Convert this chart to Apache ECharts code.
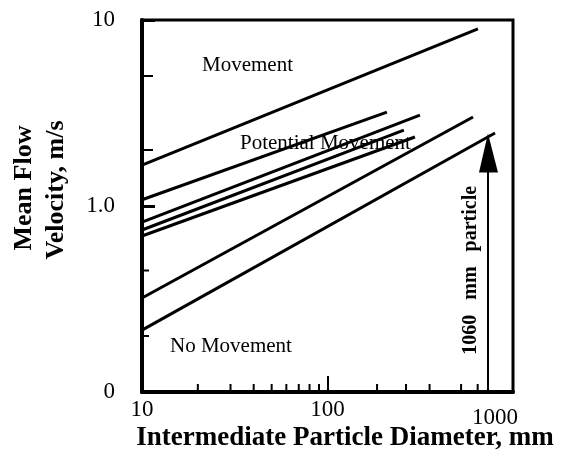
<!DOCTYPE html>
<html>
<head>
<meta charset="utf-8">
<script src="https://cdn.jsdelivr.net/npm/echarts@6/dist/echarts.min.js"></script>
<style>html,body{margin:0;padding:0;background:#fff}#c{width:565px;height:461px}</style>
</head>
<body>
<div id="c"></div>
<script>
// ---- data ----
const xRange = [10, 1000];           // intermediate particle diameter, mm (log)
const yRange = [0.1, 10];            // mean flow velocity, m/s (log)
const xTickLabels = {10: '10', 100: '100', 1000: '1000'};
const yTickLabels = ['0', '1.0', '10']; // for 0.1, 1, 10
const xMinorTicks = [20, 30, 40, 50, 60, 70, 80, 90, 185, 265, 355, 525, 645];
const yMinorTicks = [0.2, 0.45, 2, 5];
// threshold lines: [start, end] as [diameter, velocity]
const line1 = [[10, 1.66], [647, 8.95]];
const line2 = [[10, 1.08], [209, 3.20]];
const line3 = [[10, 0.82], [315, 3.08]];
const line4 = [[10, 0.743], [258, 2.56]];
const line5 = [[10, 0.69], [296, 2.35]];
const line6 = [[10, 0.32], [609, 3.01]];
const line7 = [[10, 0.215], [800, 2.47]];
const arrowDiameter = [733];
const arrowTop = [2.45];
const regionLabels = ['Movement', 'Potential Movement', 'No Movement'];

const serif = '"Liberation Serif", "Times New Roman", serif';
const chart = echarts.init(document.getElementById('c'), null, {renderer: 'canvas'});

const lines = [line1, line2, line3, line4, line5, line6, line7].map(d => ({
  type: 'line', data: d, symbol: 'none', silent: true, z: 3,
  lineStyle: {color: '#000', width: 3}
}));

const tickSeriesX = {
  type: 'custom', silent: true, z: 4,
  data: xMinorTicks.map(v => [v, yRange[0]]),
  encode: {x: 0, y: 1},
  renderItem: (p, api) => {
    const c = api.coord([api.value(0), api.value(1)]);
    return {type: 'line', shape: {x1: c[0], y1: c[1], x2: c[0], y2: c[1] - 8},
      style: {stroke: '#000', lineWidth: 2}};
  }
};
const tickSeriesY = {
  type: 'custom', silent: true, z: 4,
  data: yMinorTicks.map(v => [xRange[0], v]),
  encode: {x: 0, y: 1},
  renderItem: (p, api) => {
    const v = api.value(1);
    const c = api.coord([api.value(0), v]);
    const len = v > 1 ? 11 : 7;
    return {type: 'line', shape: {x1: c[0], y1: c[1], x2: c[0] + len, y2: c[1]},
      style: {stroke: '#000', lineWidth: 2}};
  }
};
const arrowSeries = {
  type: 'custom', silent: true, z: 5,
  data: arrowDiameter.map((d, i) => [d, yRange[0], arrowTop[i]]),
  encode: {x: 0, y: [1, 2]},
  renderItem: (p, api) => {
    const b = api.coord([api.value(0), api.value(1)]);
    const t = api.coord([api.value(0), api.value(2)]);
    return {type: 'group', children: [
      {type: 'line', shape: {x1: b[0], y1: b[1], x2: t[0], y2: t[1] + 30},
        style: {stroke: '#000', lineWidth: 2}},
      {type: 'polygon', shape: {points: [[t[0], t[1]], [t[0] - 9, t[1] + 39], [t[0] + 10, t[1] + 39]]},
        style: {fill: '#000'}},
      {type: 'text', x: b[0] - 17, y: (b[1] + t[1] + 39) / 2 - 12, rotation: Math.PI / 2,
        style: {text: '1060   mm   particle', font: 'bold 20px ' + serif, fill: '#000',
          align: 'center', verticalAlign: 'middle'}}
    ]};
  }
};

chart.setOption({
  animation: false,
  backgroundColor: '#fff',
  grid: {left: 142, right: 52, top: 20, bottom: 69, show: true, borderColor: '#000', borderWidth: 3, backgroundColor: 'transparent'},
  xAxis: {
    type: 'log', logBase: 10, min: xRange[0], max: xRange[1],
    axisLine: {show: true, lineStyle: {color: '#000', width: 4}},
    axisTick: {show: true, inside: true, length: 16, lineStyle: {color: '#000', width: 2}},
    splitLine: {show: false},
    axisLabel: {
      margin: 6, color: '#000', fontFamily: serif, fontSize: 23,
      formatter: v => {
        const k = Math.round(v);
        if (k === 1000) return '{r|' + xTickLabels[1000] + '}';
        return xTickLabels[k] || '';
      },
      rich: {r: {fontFamily: serif, fontSize: 23, color: '#000', padding: [8, 36, 0, 0]}}
    }
  },
  yAxis: {
    type: 'log', logBase: 10, min: yRange[0], max: yRange[1],
    axisLine: {show: true, lineStyle: {color: '#000', width: 4}},
    axisTick: {show: true, inside: true, length: 13, lineStyle: {color: '#000', width: 3}},
    splitLine: {show: false},
    axisLabel: {
      margin: 27, color: '#000', fontFamily: serif, fontSize: 23,
      formatter: v => v < 0.5 ? yTickLabels[0] : (v < 5 ? yTickLabels[1] : yTickLabels[2])
    }
  },
  graphic: [
    {type: 'text', left: 202, top: 55, style: {text: regionLabels[0], font: '21px ' + serif, fill: '#000'}, z: 10},
    {type: 'text', left: 240, top: 133, style: {text: regionLabels[1], font: '21px ' + serif, fill: '#000'}, z: 10},
    {type: 'text', left: 170, top: 336, style: {text: regionLabels[2], font: '21px ' + serif, fill: '#000'}, z: 10},
    {type: 'text', x: 345, y: 438, style: {text: 'Intermediate Particle Diameter, mm', font: 'bold 27px ' + serif, fill: '#000', align: 'center', verticalAlign: 'middle'}},
    {type: 'text', x: 24, y: 188, rotation: Math.PI / 2, style: {text: 'Mean Flow', font: 'bold 26px ' + serif, fill: '#000', align: 'center', verticalAlign: 'middle'}},
    {type: 'text', x: 56, y: 190, rotation: Math.PI / 2, style: {text: 'Velocity, m/s', font: 'bold 26px ' + serif, fill: '#000', align: 'center', verticalAlign: 'middle'}}
  ],
  series: [...lines, tickSeriesX, tickSeriesY, arrowSeries]
});
</script>
</body>
</html>
